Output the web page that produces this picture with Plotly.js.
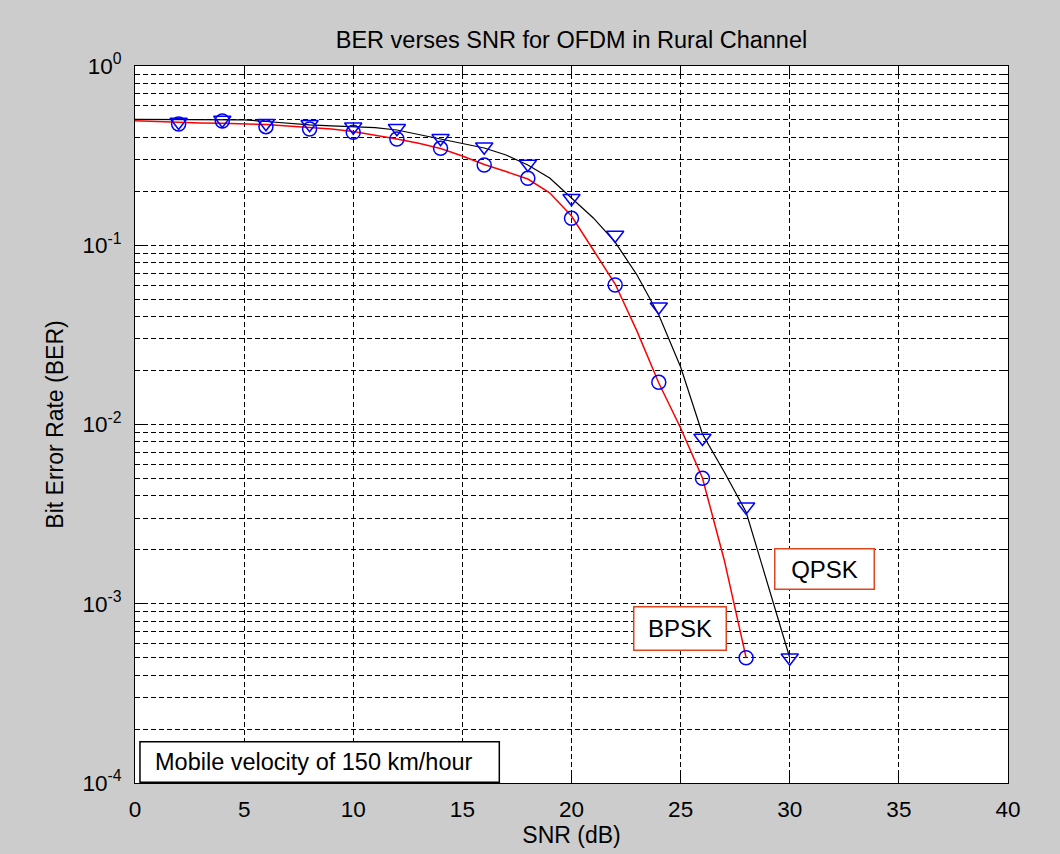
<!DOCTYPE html>
<html>
<head>
<meta charset="utf-8">
<script src="https://cdn.plot.ly/plotly-3.0.1.min.js"></script>
<style>
  html, body { margin: 0; padding: 0; background: #cccccc; }
  #chart { width: 1060px; height: 854px; }
</style>
</head>
<body>
<div id="chart"></div>
<script>
// ---- data ----
const snrBpskLine = [0,1,2,3,4,5,6,7,8,9,10,11,12,13,14,15,16,17,18,19,20,21,22,23,24,25,26,27,28];
const berBpskLine = [0.4953,0.4903,0.4828,0.4816,0.4797,0.4760,0.4712,0.4628,0.4545,0.4452,0.4311,0.4122,0.3915,0.3705,0.3465,0.3147,0.2821,0.2579,0.2342,0.1960,0.1456,0.0941,0.0608,0.0332,0.01704,0.00956,0.00503,0.00175,0.0005];

const snrQpskLine = [0,1,2,3,4,5,6,7,8,9,10,11,12,13,14,15,16,17,18,19,20,21,22,23,24,25,26,27,28,29,30];
const berQpskLine = [0.5043,0.5043,0.5043,0.5043,0.5035,0.5010,0.4903,0.4778,0.4699,0.4638,0.4591,0.4532,0.4395,0.4148,0.3940,0.3719,0.3487,0.3188,0.2803,0.2372,0.1835,0.1420,0.1042,0.0682,0.0408,0.02093,0.00885,0.00543,0.00325,0.00129,0.0005];

const snrBpskMarks = [2,4,6,8,10,12,14,16,18,20,22,24,26,28];
const berBpskMarks = [0.4748,0.4934,0.4586,0.4452,0.4267,0.3915,0.3474,0.2803,0.2363,0.1413,0.0600,0.01719,0.00501,0.0005];

const snrQpskMarks = [2,4,6,8,10,12,14,16,18,20,22,24,26,28,30];
const berQpskMarks = [0.4870,0.4997,0.4790,0.4729,0.4586,0.4492,0.3951,0.3547,0.2839,0.1827,0.1140,0.0454,0.00841,0.00348,0.0005];

const xTickVals = [0,5,10,15,20,25,30,35,40];
const yTickVals = [0.0001,0.001,0.01,0.1,1];
const yTickText = ['10<sup>-4</sup>','10<sup>-3</sup>','10<sup>-2</sup>','10<sup>-1</sup>','10<sup>0</sup>'];

const titleText = 'BER verses SNR for OFDM in Rural Channel';
const xTitleText = 'SNR (dB)';
const yTitleText = 'Bit Error Rate (BER)';
const labelQpsk = 'QPSK';
const labelBpsk = 'BPSK';
const labelNote = 'Mobile velocity of 150 km/hour';

// minor grid positions (2..9 of each decade)
const yMinorVals = [];
for (let e = -4; e < 0; e++) {
  for (let m = 2; m <= 9; m++) yMinorVals.push(m * Math.pow(10, e));
}

const FONT = 'Liberation Sans, Arial, Helvetica, sans-serif';
const GRID_DASH = '5px,3px';

const traces = [
  { x: snrBpskLine, y: berBpskLine, mode: 'lines', line: { color: '#ff0000', width: 1.5 }, showlegend: false, hoverinfo: 'skip' },
  { x: snrQpskLine, y: berQpskLine, mode: 'lines', line: { color: '#000000', width: 1.2 }, showlegend: false, hoverinfo: 'skip' },
  { x: snrBpskMarks, y: berBpskMarks, mode: 'markers', marker: { symbol: 'circle-open', size: 14, color: '#0000ff', line: { width: 1.5, color: '#0000ff' } }, showlegend: false },
  { x: snrQpskMarks, y: berQpskMarks, mode: 'markers', marker: { symbol: 'triangle-down-open', size: 15, color: '#0000ff', line: { width: 1.5, color: '#0000ff' } }, showlegend: false }
];

const layout = {
  width: 1060, height: 854,
  paper_bgcolor: '#cccccc',
  plot_bgcolor: '#ffffff',
  margin: { l: 135, r: 52, t: 66, b: 71, pad: 0 },
  font: { family: FONT, size: 22, color: '#000000' },
  showlegend: false,
  title: {
    text: titleText,
    font: { family: FONT, size: 23.5, color: '#000000' },
    xref: 'paper', x: 0.5, xanchor: 'center',
    yref: 'container', y: 1 - 40 / 854, yanchor: 'middle'
  },
  xaxis: {
    range: [0, 40],
    tickvals: xTickVals,
    ticks: 'inside', ticklen: 8, tickwidth: 1, tickcolor: '#000000',
    showline: true, linecolor: '#000000', linewidth: 1, mirror: 'ticks',
    showgrid: true, gridcolor: '#000000', gridwidth: 1, griddash: GRID_DASH,
    zeroline: false,
    ticklabelstandoff: 6,
    tickfont: { family: FONT, size: 22.5, color: '#000000' },
    title: { text: xTitleText, font: { family: FONT, size: 23, color: '#000000' }, standoff: 2 }
  },
  yaxis: {
    type: 'log',
    range: [-4, 0],
    tickvals: yTickVals,
    ticktext: yTickText,
    ticks: 'inside', ticklen: 8, tickwidth: 1, tickcolor: '#000000',
    showline: true, linecolor: '#000000', linewidth: 1, mirror: 'ticks',
    showgrid: true, gridcolor: '#000000', gridwidth: 1, griddash: GRID_DASH,
    zeroline: false,
    ticklabelstandoff: 8,
    tickfont: { family: FONT, size: 22.5, color: '#000000' },
    minor: {
      tickvals: yMinorVals,
      ticks: 'inside', ticklen: 4, tickcolor: '#000000',
      showgrid: true, gridcolor: '#000000', gridwidth: 1, griddash: GRID_DASH
    },
    title: { text: yTitleText, font: { family: FONT, size: 23, color: '#000000' }, standoff: 12 }
  },
  shapes: [
    { type: 'rect', xref: 'paper', yref: 'paper', x0: 0.0057, x1: 0.4173, y0: 0.001, y1: 0.0576,
      line: { color: '#000000', width: 1.5 }, fillcolor: '#ffffff', layer: 'above' }
  ],
  annotations: [
    { text: labelQpsk, xref: 'x', yref: 'y', x: 31.6, y: -2.8045, showarrow: false,
      font: { family: FONT, size: 24, color: '#000000' },
      bgcolor: '#ffffff', bordercolor: '#e0461e', borderwidth: 1.5, borderpad: 0,
      width: 98, height: 39 },
    { text: labelBpsk, xref: 'x', yref: 'y', x: 24.96, y: -3.139, showarrow: false,
      font: { family: FONT, size: 24, color: '#000000' },
      bgcolor: '#ffffff', bordercolor: '#e0461e', borderwidth: 1.5, borderpad: 0,
      width: 91, height: 42 },
    { text: labelNote, xref: 'paper', yref: 'paper', x: 0.0206, xanchor: 'left', y: 0.0293, yanchor: 'middle',
      showarrow: false, font: { family: FONT, size: 23.5, color: '#000000' } }
  ]
};

Plotly.newPlot('chart', traces, layout, { staticPlot: true, displayModeBar: false });
</script>
</body>
</html>
